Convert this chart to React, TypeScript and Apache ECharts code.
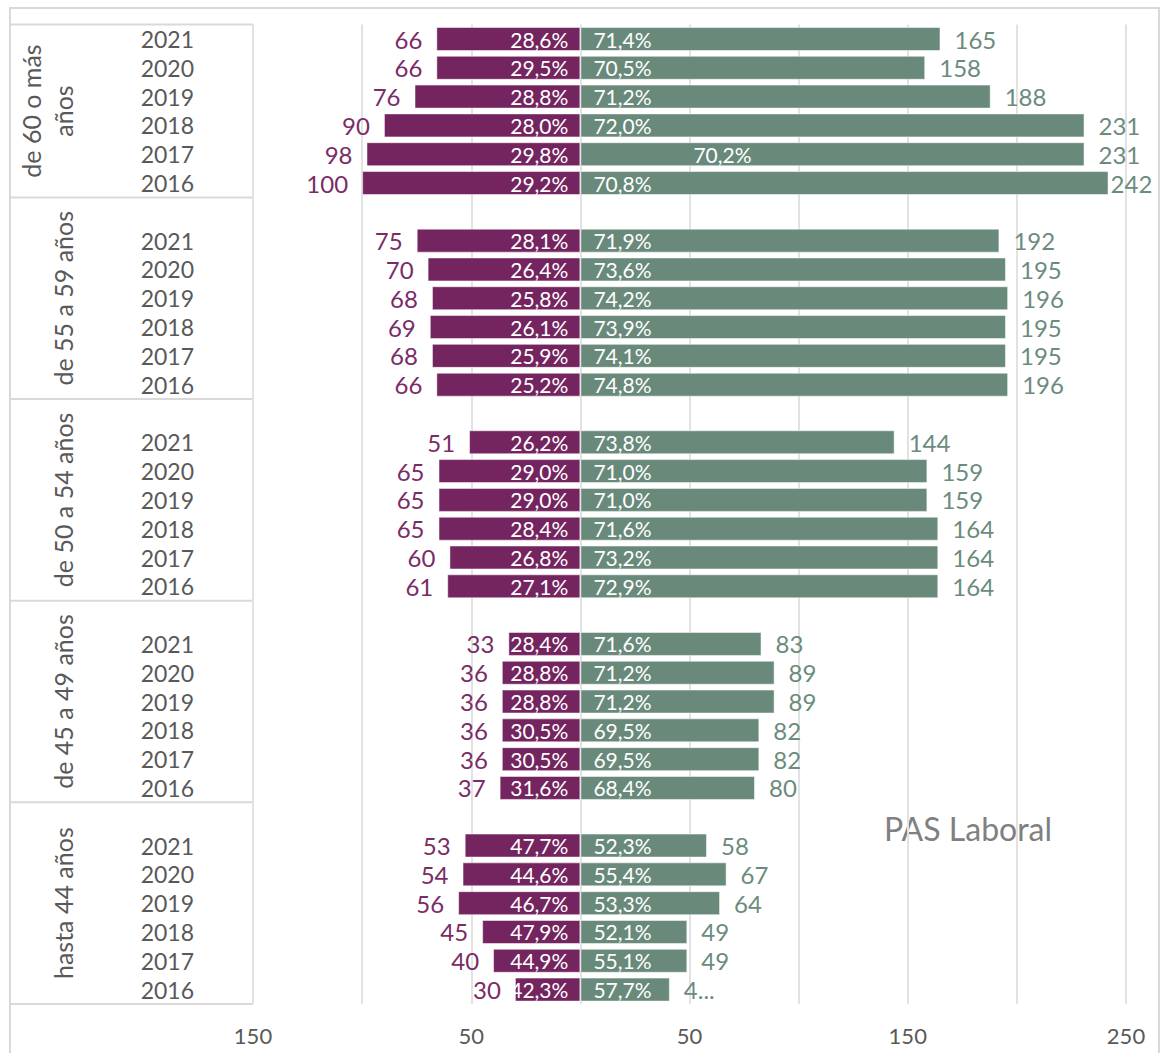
import React, { useEffect, useRef } from 'react';
import * as echarts from 'echarts';

// ---- Data ----
const groups = ['de 60 o más años', 'de 55 a 59 años', 'de 50 a 54 años', 'de 45 a 49 años', 'hasta 44 años'];
const groupLabelLines = [['de 60 o más', 'años'], ['de 55 a 59 años'], ['de 50 a 54 años'], ['de 45 a 49 años'], ['hasta 44 años']];
const years = ['2021', '2020', '2019', '2018', '2017', '2016'];

const purpleValues = [
  [66, 66, 76, 90, 98, 100],
  [75, 70, 68, 69, 68, 66],
  [51, 65, 65, 65, 60, 61],
  [33, 36, 36, 36, 36, 37],
  [53, 54, 56, 45, 40, 30],
];
const purplePct = [
  [28.6, 29.5, 28.8, 28.0, 29.8, 29.2],
  [28.1, 26.4, 25.8, 26.1, 25.9, 25.2],
  [26.2, 29.0, 29.0, 28.4, 26.8, 27.1],
  [28.4, 28.8, 28.8, 30.5, 30.5, 31.6],
  [47.7, 44.6, 46.7, 47.9, 44.9, 42.3],
];
const greenPct = [
  [71.4, 70.5, 71.2, 72.0, 70.2, 70.8],
  [71.9, 73.6, 74.2, 73.9, 74.1, 74.8],
  [73.8, 71.0, 71.0, 71.6, 73.2, 72.9],
  [71.6, 71.2, 71.2, 69.5, 69.5, 68.4],
  [52.3, 55.4, 53.3, 52.1, 55.1, 57.7],
];
const greenValues = [
  [165, 158, 188, 231, 231, 242],
  [192, 195, 196, 195, 195, 196],
  [144, 159, 159, 164, 164, 164],
  [83, 89, 89, 82, 82, 80],
  [58, 67, 64, 49, 49, 41],
];
const titleText = 'PAS Laboral';

// ---- Styling / layout ----
const W = 1161;
const H = 1053;
const GRID_LEFT = 253;
const GRID_TOP = 24.6;
const GRID_W = 873;
const GRID_H = 979.4;
const PURPLE = '#74245f';
const GREEN = '#698a7b';
const PURPLE_TEXT = '#7a2c66';
const GREEN_TEXT = '#6b8b7d';
const GRAY_TEXT = '#595959';
const LINE = '#d9d9d9';
const FONT = 'Lato';

const fmtPct = (v: number) => v.toFixed(1).replace('.', ',') + '%';

export default function App() {
  const ref = useRef<HTMLDivElement>(null);

  useEffect(() => {
    document.body.style.margin = '0';
    if (!ref.current) return;
    const chart = echarts.init(ref.current, undefined, { renderer: 'svg' });

    // Build flattened rows (blank row before every group except the first)
    const categories: string[] = [];
    const pv: (number | null)[] = [];
    const gv: (number | null)[] = [];
    const pp: (number | null)[] = [];
    const gp: (number | null)[] = [];
    const groupRanges: { start: number; end: number }[] = [];
    groups.forEach((g, gi) => {
      const start = categories.length;
      if (gi > 0) {
        categories.push(g + '|');
        pv.push(null); gv.push(null); pp.push(null); gp.push(null);
      }
      years.forEach((y, yi) => {
        categories.push(g + '|' + y);
        pv.push(purpleValues[gi][yi]);
        gv.push(greenValues[gi][yi]);
        pp.push(purplePct[gi][yi]);
        gp.push(greenPct[gi][yi]);
      });
      groupRanges.push({ start, end: categories.length });
    });
    const n = categories.length;
    const rowH = GRID_H / n;

    const idx = (gi: number, yi: number) => groupRanges[gi].start + (gi > 0 ? 1 : 0) + yi;
    const pctShiftIdx = idx(0, 4); // 2017 of first group: label moved right
    const edgeIdx = idx(0, 5); // 2016 of first group: label kept inside chart
    const truncIdx = idx(4, 5); // 2016 of last group: truncated value label

    const purpleBarData = pv.map((v) => (v == null ? null : -v));
    const purpleValueData = pv.map((v) => (v == null ? null : -v));
    const greenBarData = gv.map((v, i) =>
      v == null ? null : i === pctShiftIdx ? { value: v, label: { offset: [100, 0] } } : v
    );
    const greenValueData = gv.map((v, i) => {
      if (v == null) return null;
      if (i === truncIdx)
        return { value: v, label: { formatter: (p: any) => String(p.value).slice(0, 1) + '...' } };
      if (i === edgeIdx) return { value: v, label: { distance: 2 } };
      return v;
    });

    const graphics: any[] = [];
    graphics.push({
      type: 'rect',
      shape: { x: 10, y: 8, width: 1149, height: 1100 },
      style: { fill: 'none', stroke: LINE, lineWidth: 2 },
      silent: true,
    });
    graphics.push({
      type: 'line',
      shape: { x1: 10, y1: GRID_TOP, x2: GRID_LEFT, y2: GRID_TOP },
      style: { stroke: LINE, lineWidth: 2 },
      silent: true,
    });
    graphics.push({
      type: 'line',
      shape: { x1: GRID_LEFT, y1: GRID_TOP, x2: GRID_LEFT, y2: GRID_TOP + GRID_H },
      style: { stroke: LINE, lineWidth: 2 },
      silent: true,
    });
    groupRanges.forEach((r, gi) => {
      const yEnd = GRID_TOP + r.end * rowH;
      graphics.push({
        type: 'line',
        shape: { x1: 10, y1: yEnd, x2: GRID_LEFT, y2: yEnd },
        style: { stroke: LINE, lineWidth: 2 },
        silent: true,
      });
      const yc = GRID_TOP + ((r.start + r.end) / 2) * rowH;
      const lines = groupLabelLines[gi];
      lines.forEach((t, li) => {
        const x = lines.length === 1 ? 63 : 31 + li * 32;
        graphics.push({
          type: 'text',
          x,
          y: yc,
          rotation: Math.PI / 2,
          silent: true,
          style: {
            text: t,
            fontSize: 25,
            fontFamily: FONT,
            fill: GRAY_TEXT,
            align: 'center',
            verticalAlign: 'middle',
            textAlign: 'center',
            textVerticalAlign: 'middle',
          },
        });
      });
    });
    graphics.push({
      type: 'text',
      x: 884,
      y: 828,
      silent: true,
      style: {
        text: titleText,
        fontSize: 32,
        fontFamily: FONT,
        fill: '#808080',
        align: 'left',
        verticalAlign: 'middle',
        textAlign: 'left',
        textVerticalAlign: 'middle',
      },
    });

    const option: any = {
      animation: false,
      textStyle: { fontFamily: FONT },
      grid: {
        left: GRID_LEFT,
        top: GRID_TOP,
        width: GRID_W,
        height: GRID_H,
        containLabel: false,
        outerBoundsMode: 'none',
      },
      xAxis: {
        type: 'value',
        min: -150,
        max: 250,
        interval: 50,
        axisLine: { show: false },
        axisTick: { show: false },
        splitLine: { show: true, lineStyle: { color: '#e2e2e2', width: 2 } },
        axisLabel: {
          margin: 20,
          fontSize: 22,
          color: GRAY_TEXT,
          fontFamily: FONT,
          showMinLabel: true,
          showMaxLabel: true,
          formatter: (v: number) => ((v + 150) % 100 === 0 ? String(Math.abs(v)) : ''),
        },
      },
      yAxis: {
        type: 'category',
        inverse: true,
        data: categories,
        axisLine: { show: false },
        axisTick: { show: false },
        splitLine: { show: false },
        axisLabel: {
          interval: 0,
          margin: 59,
          fontSize: 23,
          lineHeight: 23,
          color: GRAY_TEXT,
          fontFamily: FONT,
          formatter: (v: string) => v.split('|')[1] || '',
        },
      },
      series: [
        {
          name: 'purple',
          type: 'bar',
          data: purpleBarData,
          barWidth: 24,
          barGap: '-100%',
          itemStyle: { color: PURPLE, borderColor: 'rgba(255,255,255,0.5)', borderWidth: 1 },
          label: {
            show: true,
            position: 'insideRight',
            distance: 12,
            color: '#ffffff',
            fontSize: 21,
            lineHeight: 21,
            fontFamily: FONT,
            formatter: (p: any) => (pp[p.dataIndex] == null ? '' : fmtPct(pp[p.dataIndex] as number)),
          },
          silent: true,
        },
        {
          name: 'purpleValue',
          type: 'bar',
          data: purpleValueData,
          barWidth: 24,
          barGap: '-100%',
          itemStyle: { color: 'rgba(0,0,0,0)' },
          label: {
            show: true,
            position: 'left',
            distance: 14,
            color: PURPLE_TEXT,
            fontSize: 24,
            lineHeight: 24,
            fontFamily: FONT,
            formatter: (p: any) => String(Math.abs(p.value)),
          },
          silent: true,
          z: 3,
        },
        {
          name: 'green',
          type: 'bar',
          data: greenBarData,
          barWidth: 24,
          barGap: '-100%',
          itemStyle: { color: GREEN, borderColor: 'rgba(255,255,255,0.5)', borderWidth: 1 },
          label: {
            show: true,
            position: 'insideLeft',
            distance: 13,
            color: '#ffffff',
            fontSize: 21,
            lineHeight: 21,
            fontFamily: FONT,
            formatter: (p: any) => (gp[p.dataIndex] == null ? '' : fmtPct(gp[p.dataIndex] as number)),
          },
          silent: true,
        },
        {
          name: 'greenValue',
          type: 'bar',
          data: greenValueData,
          barWidth: 24,
          barGap: '-100%',
          itemStyle: { color: 'rgba(0,0,0,0)' },
          label: {
            show: true,
            position: 'right',
            distance: 14,
            color: GREEN_TEXT,
            fontSize: 24,
            lineHeight: 24,
            fontFamily: FONT,
            formatter: (p: any) => String(p.value),
          },
          silent: true,
          z: 3,
        },
      ],
      graphic: { elements: graphics },
    };

    chart.setOption(option);
    return () => chart.dispose();
  }, []);

  return <div ref={ref} style={{ width: W, height: H }} />;
}
